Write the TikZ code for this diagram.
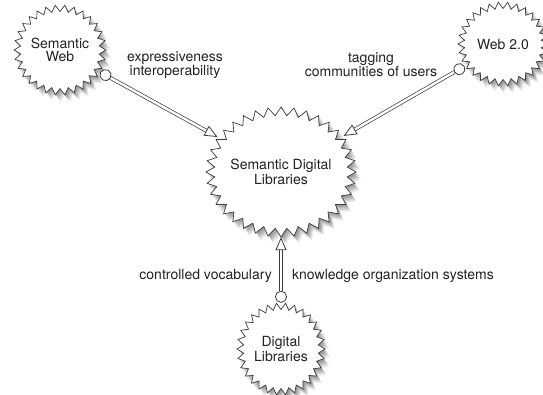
\documentclass[tikz,border=0pt]{standalone}
\usepackage{fontspec}
\setmainfont{TeX Gyre Heros}
\usetikzlibrary{arrows.meta,shapes.geometric,backgrounds}

\definecolor{inkgray}{HTML}{222222}
\definecolor{linegray}{HTML}{3C3C3C}
\definecolor{shadegray}{HTML}{555555}

\tikzset{
  burst/.style 2 args={ellipse, inner sep=0pt, minimum width=#1pt,
    minimum height=#2pt, align=center, text=inkgray},
  lbl/.style={text=inkgray, inner sep=0pt, align=center,
    font=\fontsize{14}{12.5}\selectfont},
  conn/.style={draw=linegray, line width=0.7pt, double=white,
    double distance=2.4pt,
    {Circle[open,fill=white,length=12pt,width=12pt,line width=0.8pt]}-{Triangle[open,fill=white,length=13pt,width=11pt,line width=0.8pt]}},
  burstline/.style={draw=linegray, line width=0.7pt, fill=white},
}

% zigzag outline round a node: name, rx, ry, tooth depth, teeth
\newcommand\burstoutline[5]{%
  \begin{scope}[shift={(#1.center)}]
    \foreach \dx/\dy/\op in {5/7/0.12, 4/5.5/0.15, 3/4/0.18, 2/2.5/0.2, 1/1/0.22}{
      \fill[shadegray, opacity=\op, shift={(\dx,\dy)}]
        plot[samples=2*#5+1, domain=0:360, variable=\t]
        ({(#2-#4*mod(round(\t*#5/180),2))*cos(\t)},
         {(#3-#4*mod(round(\t*#5/180),2))*sin(\t)}) -- cycle;
    }
    \path[burstline]
      plot[samples=2*#5+1, domain=0:360, variable=\t]
      ({(#2-#4*mod(round(\t*#5/180),2))*cos(\t)},
       {(#3-#4*mod(round(\t*#5/180),2))*sin(\t)}) -- cycle;
  \end{scope}}

\begin{document}
\begin{tikzpicture}[x=1pt, y=-1pt, font=\fontsize{14}{13}\selectfont]
  \useasboundingbox (0,0) rectangle (543,394);

  % concept nodes
  \node[burst={92}{90}]  (sw)  at (60,50)   {Semantic\\Web};
  \node[burst={90}{84}]  (web) at (503,44)  {Web 2.0};
  \node[burst={150}{130}] (sdl) at (281,172) {Semantic Digital\\Libraries};
  \node[burst={88}{92}]  (dl)  at (281,349) {Digital\\Libraries};

  % star outlines and shadows behind the text
  \begin{scope}[on background layer]
    \fill[white] (0,0) rectangle (543,394);
    \burstoutline{sw}{46}{45}{6.5}{30}
    \burstoutline{web}{45}{42}{6.5}{30}
    \burstoutline{sdl}{75}{65}{8.5}{36}
    \burstoutline{dl}{44}{46}{6.5}{30}
  \end{scope}

  % connectors
  \draw[conn] (sw)  -- (sdl);
  \draw[conn] (web) -- (sdl);
  \draw[conn] (dl)  -- (sdl);

  % connector labels
  \node[lbl] (swlbl)  at (175,65.2) {expressiveness\\interoperability};
  \node[lbl] (weblbl) at (371,64.4) {tagging\\communities of users};
  \node[lbl, anchor=base east] (dllbl1) at (272,279.5) {controlled vocabulary};
  \node[lbl, anchor=base west] (dllbl2) at (292,279.5) {knowledge organization systems};
\end{tikzpicture}
\end{document}
